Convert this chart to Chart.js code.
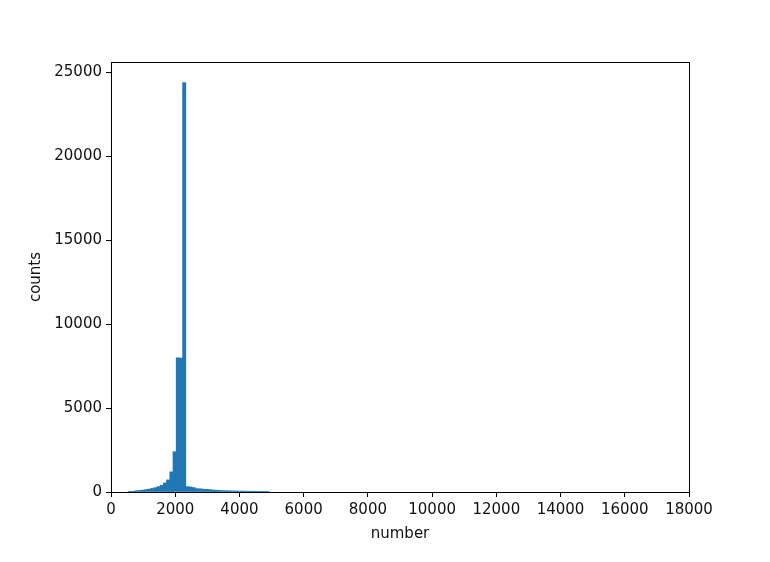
<!DOCTYPE html>
<html>
<head>
<meta charset="utf-8">
<script src="https://cdn.jsdelivr.net/npm/chart.js@4"></script>
<style>
  html, body { margin: 0; padding: 0; background: #fff; }
  #wrap { width: 770px; height: 562px; }
</style>
</head>
<body>
<div id="wrap"><canvas id="hist"></canvas></div>
<script>
// Bin start (width 100) and counts
const binStarts = [500, 600, 700, 800, 900, 1000, 1100, 1200, 1300, 1400,
  1500, 1600, 1700, 1800, 1900, 2000, 2100, 2200, 2300, 2400,
  2500, 2600, 2700, 2800, 2900, 3000, 3100, 3200, 3300, 3400,
  3500, 3600, 3700, 3800, 3900, 4000, 4100, 4200, 4300, 4400,
  4500, 4600, 4700, 4800];
const counts = [20, 40, 70, 90, 110, 140, 170, 210, 260, 320,
  400, 540, 720, 1200, 2400, 8000, 7980, 24400, 320, 300,
  260, 200, 190, 170, 160, 140, 120, 110, 95, 85,
  75, 70, 65, 60, 55, 55, 50, 50, 45, 45,
  40, 40, 35, 35];
const binWidth = 100;
const xTicks = [0, 2000, 4000, 6000, 8000, 10000, 12000, 14000, 16000, 18000];
const yTicks = [0, 5000, 10000, 15000, 20000, 25000];

const points = binStarts.map((s, i) => ({ x: s + binWidth / 2 + 30, y: counts[i] }));

Chart.defaults.font.family = 'DejaVu Sans';
Chart.defaults.font.size = 15;
Chart.defaults.color = '#111';

// Rahmen rundum wie matplotlib
const frame = {
  id: 'frame',
  afterDraw(chart) {
    const { ctx, chartArea: a } = chart;
    ctx.save();
    ctx.strokeStyle = '#000';
    ctx.lineWidth = 1;
    ctx.strokeRect(Math.round(a.left) + 0.5, Math.round(a.top) + 0.5,
      Math.round(a.right - a.left), Math.round(a.bottom - a.top));
    ctx.restore();
  }
};

new Chart(document.getElementById('hist'), {
  type: 'bar',
  data: {
    datasets: [{
      data: points,
      backgroundColor: '#1f77b4',
      borderWidth: 0,
      barPercentage: 1,
      categoryPercentage: 1,
      grouped: false
    }]
  },
  options: {
    responsive: true,
    maintainAspectRatio: false,
    animation: false,
    layout: { padding: { left: 0, top: 62, right: 81, bottom: 0 } },
    plugins: { legend: { display: false }, tooltip: { enabled: false } },
    scales: {
      x: {
        type: 'linear',
        min: 0,
        max: 18000,
        offset: false,
        afterBuildTicks: s => { s.ticks = xTicks.map(v => ({ value: v })); },
        afterFit: s => { s.height = 70; },
        ticks: { padding: 4, maxRotation: 0, autoSkip: false, callback: v => String(v) },
        grid: { drawOnChartArea: false, tickLength: 5, color: '#000', offset: false },
        border: { color: '#000' },
        title: { display: true, text: 'number', padding: { top: 19, bottom: 19 } }
      },
      y: {
        min: 0,
        max: 25620,
        afterBuildTicks: s => { s.ticks = yTicks.map(v => ({ value: v })); },
        afterFit: s => { s.width = 111; },
        ticks: { padding: 4, callback: v => String(v) },
        grid: { drawOnChartArea: false, tickLength: 5, color: '#000' },
        border: { color: '#000' },
        title: { display: true, text: 'counts', padding: { top: 27, bottom: 27 } }
      }
    }
  },
  plugins: [frame]
});
</script>
</body>
</html>
